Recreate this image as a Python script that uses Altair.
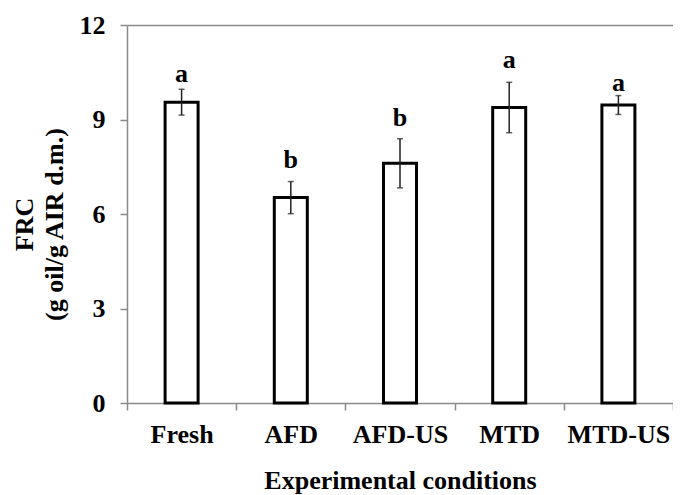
import altair as alt
import pandas as pd

categories = ["Fresh", "AFD", "AFD-US", "MTD", "MTD-US"]
means = [9.55, 6.52, 7.61, 9.38, 9.46]
sds = [0.41, 0.51, 0.78, 0.80, 0.30]
letters = ["a", "b", "b", "a", "a"]
letter_pos = [10.19, 7.46, 8.79, 10.63, 9.90]

df = pd.DataFrame({
    "cond": categories,
    "mean": means,
    "sd": sds,
    "letter": letters,
    "lp": letter_pos,
})

FONT = "Liberation Serif"
GRAY = "#8a8a8a"

x = alt.X(
    "cond:N",
    sort=categories,
    scale=alt.Scale(paddingInner=0, paddingOuter=0),
    axis=alt.Axis(
        title="Experimental conditions",
        tickBand="extent",
        labelAngle=0,
        labelFont=FONT,
        labelFontSize=26,
        labelFontWeight="bold",
        labelColor="black",
        labelPadding=11,
        domainColor=GRAY,
        domainWidth=1.5,
        tickColor=GRAY,
        tickWidth=1.5,
        tickSize=7,
        titleFont=FONT,
        titleFontSize=26,
        titleFontWeight="bold",
        titleColor="black",
        titlePadding=20,
    ),
)

y_scale = alt.Scale(domain=[0, 12], nice=False)
y_axis = alt.Axis(
    values=[0, 3, 6, 9, 12],
    title=["FRC", "(g oil/g AIR d.m.)"],
    labelFont=FONT,
    labelFontSize=26,
    labelFontWeight="bold",
    labelColor="black",
    labelPadding=15,
    domainColor=GRAY,
    domainWidth=1.5,
    tickColor=GRAY,
    tickWidth=1.5,
    tickSize=7,
    grid=True,
    gridColor=GRAY,
    gridWidth=1.5,
    gridOpacity=alt.condition("datum.value == 12", alt.value(1), alt.value(0)),
    titleFont=FONT,
    titleFontSize=26,
    titleFontWeight="bold",
    titleColor="black",
    titleX=-95,
    titleY=199,
    titleAlign="center",
    titleBaseline="alphabetic",
    titleLineHeight=30,
)

def Y(field):
    return alt.Y(field, scale=y_scale, axis=y_axis)

base = alt.Chart(df).transform_calculate(
    lo="datum.mean - datum.sd", hi="datum.mean + datum.sd"
).encode(x=x)

bars = base.mark_bar(size=33, fill="white", stroke="black", strokeWidth=3).encode(
    y=Y("mean:Q")
)
rules = base.mark_rule(color="#222222", strokeWidth=1.5).encode(
    y=Y("lo:Q"), y2="hi:Q"
)
cap_hi = base.mark_tick(size=6, thickness=1.5, color="#222222").encode(y=Y("hi:Q"))
cap_lo = base.mark_tick(size=6, thickness=1.5, color="#222222").encode(y=Y("lo:Q"))
labels = base.mark_text(
    font=FONT, fontSize=26, fontWeight="bold", baseline="alphabetic", color="black"
).encode(y=Y("lp:Q"), text="letter:N")

chart = (
    alt.layer(bars, rules, cap_hi, cap_lo, labels)
    .properties(
        width=546,
        height=378,
        padding={"left": 119, "top": 17, "right": 0, "bottom": 92},
        autosize=alt.AutoSizeParams(type="none"),
        background="white",
    )
    .configure_view(stroke=None)
)

chart.save("out.html", embed_options={"renderer": "svg", "actions": False})
